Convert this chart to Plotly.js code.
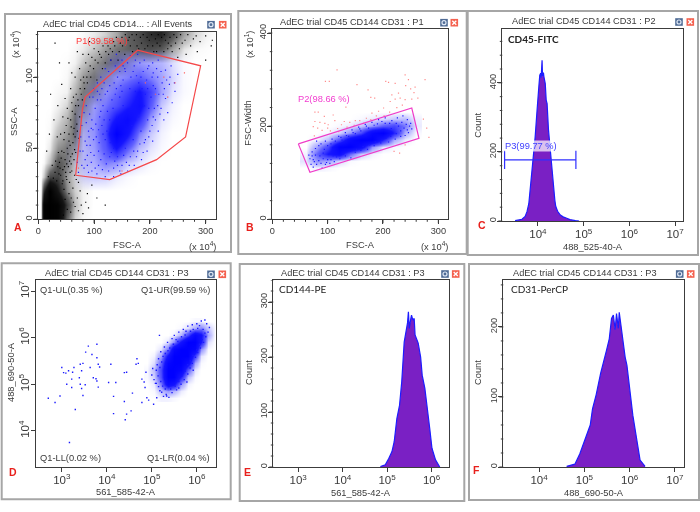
<!DOCTYPE html>
<html><head><meta charset="utf-8">
<script src="https://cdn.plot.ly/plotly-3.0.1.min.js"></script>
<style>html,body{margin:0;padding:0;background:#fff}#g{width:700px;height:512px;filter:blur(.25px)}</style>
</head><body><div id="g"></div>
<script>
// ---------- DATA ----------
const aBlackGridX=[5,10,20,35,50,65,80,100,120,140,160,180,200,220,240,260,280,300,320];
const aBlackGridY=[0,10,20,30,40,50,60,70,80,90,100,110,120,130];
const aBlackGridZ=[
[0,.95,1,.95,.3,.06,.01],[0,.95,1,.95,.45,.1,.02],[0,.5,1,.6,.22,.07,.02],[0,.08,.4,.42,.18,.06,.02],
[0,.01,.1,.35,.25,.08,.02],[0,0,.03,.2,.25,.18,.02],[0,0,.01,.1,.18,.28,.04],[0,0,.005,.05,.12,.28,.1],
[0,0,0,.02,.06,.22,.22,.02],[0,0,0,.01,.02,.12,.25,.2,.02],[0,0,0,0,.01,.06,.18,.26,.15,.02],
[0,0,0,0,.005,.02,.08,.18,.26,.22,.1,.01],[0,0,0,0,0,.01,.03,.08,.18,.26,.3,.34,.38,.34,.16,.04,.01,.005,0],
[0,0,0,0,0,0,.01,.03,.07,.15,.3,.38,.5,.55,.35,.16,.06,.02,.005]];
const aBlueGridX=[60,80,100,120,140,160,180,200,220,240,260,280];
const aBlueGridY=[20,30,40,50,60,70,80,90,100,110,120];
const aBlueGridZ=[[0],[0,.06,.08,.07,.03,.01],[.01,.1,.14,.24,.2,.08,.04,.01],[.01,.1,.18,.34,.6,.32,.1,.04,.01],
[0,.1,.2,.4,1,.65,.24,.08,.02],[0,.08,.2,.34,.65,.8,.5,.16,.04,.01],[0,.04,.16,.26,.38,.55,.7,.34,.08,.02],
[0,0,.08,.18,.28,.42,.62,.42,.16,.04,.01],[0,0,.01,.1,.18,.24,.32,.24,.16,.06,.01],[0,0,0,.01,.1,.15,.18,.15,.12,.05,.01],[0]];
const aBlackDots=[[45,3],[52,7],[58,5],[63,12],[48,14],[55,18],[66,9],[72,6],[70,15],[80,4],[62,22],[75,20],[85,12],[90,8],[68,28],[56,26],[50,30],[44,35],[38,40],[60,34],[48,42],[42,48],[52,50],[36,47],[58,44],[30,33],[25,38],[18,30],[46,56],[55,60],[40,60],[62,54],[34,58],[50,66],[64,64],[58,70],[44,72],[66,74],[52,78],[60,82],[72,80],[48,85],[68,88],[75,92],[58,92],[82,96],[66,100],[90,104],[74,106],[60,103],[55,110],[85,110],[96,114],[80,116],[70,118],[110,116],[100,120],[125,122],[92,125],[38,110],[30,124],[22,88],[42,95],[35,80],[28,70],[20,60],[15,48],[130,112],[145,118],[115,106],[105,98],[120,110],[135,125],[150,128],[165,122],[155,116],[172,126],[185,124],[195,128],[205,122],[215,130],[228,126],[238,122],[248,128],[258,124],[268,130],[278,127],[290,125],[300,129],[310,122],[285,118],[265,116],[250,114],[300,112],[312,126],[240,118],[225,118],[47,37],[53,46],[41,43],[57,52],[63,60],[69,67],[61,76],[71,84],[77,88],[83,92],[87,100],[93,108],[99,106],[107,110],[113,114],[121,118],[129,120],[137,122],[143,112],[151,122],[161,126],[169,118],[177,122],[183,128],[191,120],[199,126],[207,118],[213,124],[221,128],[233,124],[243,130],[253,120],[263,126],[273,122],[283,129],[59,39],[51,28],[43,25],[65,31],[67,47],[73,57],[65,49],[37,32],[33,27],[59,15],[77,10],[88,18],[96,24],[105,15],[120,10],
[44,27],[49,33],[54,37],[40,31],[46,47],[51,39],[61,46],[55,55],[47,61],[59,65],[53,71],[66,58],[70,62],[67,80],[63,86],[74,72],[79,84],[81,100],[76,98],[88,96],[94,100],[102,112],[90,116],[108,118],[116,122],[126,116],[133,118],[140,128],[147,124],[156,130],[163,128],[176,130],[180,120],[188,130],[203,130],[210,127],[218,122],[226,130],[236,128],[246,124],[255,130],[168,130],[196,122],[212,118],[232,120],[64,42],[57,33],[72,26],[46,21],[39,36],[56,41],[35,37],[31,41],[27,29]];
const aBlueDots=[[72,33],[70,40],[75,48],[76,58],[78,66],[82,75],[86,80],[92,86],[100,92],[106,96],[112,100],[120,106],[130,112],[140,116],[150,112],[165,115],[178,116],[190,112],[205,110],[215,112],[228,105],[238,108],[250,102],[245,90],[240,82],[232,75],[225,70],[215,62],[205,55],[195,48],[185,42],[172,38],[160,34],[148,32],[135,30],[120,30],[105,32],[90,33],[82,36],[88,45],[95,40],[84,55],[90,62],[96,70],[102,78],[110,88],[118,96],[126,104],[138,108],[155,106],[172,108],[188,104],[206,103],[222,96],[235,95],[228,85],[220,78],[210,70],[200,62],[190,54],[178,48],[165,44],[150,38],[135,36],[115,35],[100,45],[93,52],[104,58],[98,63],[110,72],[106,84],[116,80],[124,90],[114,66],[120,56],[108,48],[128,44],[142,44],[156,50],[170,56],[184,62],[196,70],[208,78],[216,88],[206,94],[194,98],[180,96],[166,100],[152,98],[136,96],[132,84],[146,86],[128,70],[118,46],[92,74],[86,68],[80,48],[78,38],[96,34],[112,42],[126,34],[142,38],[158,40],[176,44],[192,56],[204,66],[218,74],[226,92],[236,100],[244,96],[212,106],[198,108],[182,110],[160,110],[146,104],
[88,38],[94,47],[102,36],[109,54],[116,60],[122,39],[131,47],[137,41],[146,34],[153,45],[163,38],[171,48],[182,53],[188,47],[198,58],[103,67],[99,56],[91,58],[87,52],[95,64],[108,63],[112,76],[118,70],[123,62],[129,54],[135,50],[124,76],[134,78],[140,92],[148,94],[156,104],[170,104],[176,101],[186,92],[192,88],[202,86],[210,92],[214,100],[220,104],[230,98],[224,88],[214,80],[206,72],[198,78],[204,100],[196,106],[184,100],[174,112],[152,108],[142,100],[128,94],[120,88],[114,92],[106,90],[98,86],[112,84],[138,88],[150,90],[164,92],[174,90],[152,80],[142,72],[108,38],[84,42],[168,66],[180,72],[190,80],[196,92]];
const aRedDots=[[225,100],[245,96],[262,103],[210,88],[232,86],[192,96],[150,34],[72,36]];
const gateAx=[67,128,212,264,291,178,84,79,67];
const gateAy=[31,28,42,58,108,119,86,77,31];
const gateBx=[47,252,265,68,47];
const gateBy=[162,239,174,101,162];
const bBlueGridX=[60,80,100,120,140,160,180,200,220,240,260];
const bBlueGridY=[110,125,140,155,170,185,200,215,230];
const bBlueGridZ=[[0,.02,.01],[.04,.2,.16,.06,.01],[.02,.3,.6,.75,.3,.08,.02],[0,.16,.4,.95,1,.75,.2,.04,.01],
[0,.02,.1,.35,.8,1,1,.55,.14,.03],[0,0,.01,.06,.18,.4,.85,1,.55,.14,.01],[0,0,0,.01,.03,.08,.18,.32,.4,.25,.03],
[0,0,0,0,0,.01,.03,.05,.08,.1,.02],[0]];
const bBlueDots=[[70,118],[74,112],[68,130],[66,138],[72,145],[78,152],[84,158],[90,110],[96,118],[104,120],[112,124],[122,130],[132,136],[142,132],[150,144],[160,148],[172,150],[184,158],[196,164],[210,166],[222,172],[232,178],[240,180],[246,186],[252,194],[250,206],[244,214],[236,222],[226,218],[216,212],[204,218],[192,214],[180,208],[168,204],[156,198],[144,192],[132,186],[120,178],[108,172],[96,168],[88,162],[80,168],[76,124],[84,126],[92,130],[100,128],[110,136],[228,200],[238,196],[215,195],[204,206],[248,200],[244,192],[190,205],[174,196],[160,190],[150,184],[138,178],[126,170],
[74,128],[80,118],[86,136],[92,142],[98,122],[106,128],[78,138],[72,136],[88,120],[94,150],[100,158],[106,162],[114,168],[124,176],[134,180],[146,186],[158,194],[170,200],[184,202],[198,210],[212,206],[224,206],[234,208],[242,204],[232,190],[224,184],[214,178],[206,174],[198,170],[186,166],[176,160],[164,156],[152,150],[140,146],[128,140],[116,134]];
const bPinkDots=[[117,321],[96,296],[103,296],[153,289],[173,278],[178,262],[185,260],[205,296],[210,294],[222,292],[240,310],[246,300],[241,287],[250,280],[258,284],[276,300],[256,272],[216,267],[228,271],[222,258],[231,260],[213,253],[240,257],[263,260],[252,258],[133,241],[201,239],[192,232],[77,230],[83,230],[110,224],[94,221],[180,228],[273,215],[279,196],[283,176],[77,210],[86,208],[95,206],[101,203],[113,212],[74,199],[82,196],[90,191],[76,179],[125,203],[140,208],[158,212],[170,217],[130,210],[148,202],[165,206],[178,214],[188,222],[105,190],[118,195],[135,198],[120,188],[100,196],[150,212],[202,222],[212,230],[225,240],[235,245],[230,142],[220,146],[240,160]];
const cLog=[3.50,3.60,3.65,3.72,3.76,3.80,3.83,3.87,3.89,3.94,3.98,4.00,4.02,4.04,4.06,4.07,4.08,4.09,4.10,4.12,4.13,4.15,4.16,4.18,4.20,4.23,4.26,4.29,4.32,4.34,4.37,4.39,4.43,4.49,4.55,4.63,4.70,4.82,4.90];
const cCount=[1,3,5,13,27,50,90,140,165,245,320,370,390,422,428,415,440,465,420,430,418,400,398,350,340,265,215,178,125,85,60,42,28,17,12,8,4,1,0];
const gateCLog=[3.27,4.83];
const gateCCount=[177,177];
const dBlueGridX=[4.9,5.05,5.2,5.35,5.5,5.65,5.8,5.95,6.1,6.25,6.4];
const dBlueGridY=[4.7,4.85,5.0,5.15,5.3,5.45,5.6,5.75,5.9,6.05,6.2,6.35];
const dBlueGridZ=[[0,0,.02,.02,.01],[0,.01,.1,.18,.12,.03],[0,.03,.25,.8,.65,.18,.02],[.01,.07,.38,1,1,.55,.1,.01],
[.01,.1,.4,1,1,.9,.32,.04],[0,.05,.3,.9,1,1,.75,.15,.01],[0,.02,.16,.65,1,1,1,.42,.04],[0,0,.04,.25,.85,1,1,.9,.2,.01],
[0,0,0,.04,.22,.65,1,1,.6,.05],[0,0,0,0,.02,.12,.42,.85,.65,.15],[0,0,0,0,0,.01,.05,.14,.22,.08,.01],[0,0,0,0,0,0,0,.01,.01]];
const dDots=[[3.78,5.86],[3.59,5.82],[3.53,5.69],[3.67,5.64],[3.78,5.57],[3.81,5.43],[3.84,5.37],[3.47,5.45],[3.41,5.43],[3.27,5.36],[3.0,5.36],[3.04,5.25],[3.09,5.24],[3.15,5.29],[3.24,5.26],[3.44,5.29],[3.63,5.36],[3.39,5.14],[3.22,5.11],[3.11,5.0],[3.22,4.93],[3.41,5.0],[3.52,4.99],[3.70,5.14],[3.76,5.12],[3.78,5.07],[3.81,4.94],[3.44,4.91],[3.47,4.76],[2.96,4.75],[2.70,4.7],[2.85,4.61],[3.30,4.46],[3.17,3.75],[4.15,4.37],[4.44,4.36],[4.54,4.43],[4.41,4.24],[4.09,5.43],[4.04,5.04],[4.2,5.04],[4.15,4.74],[4.39,4.63],[4.57,4.81],[4.39,5.25],[4.44,5.26],[4.67,5.55],[4.65,5.43],[4.70,5.45],[4.78,5.11],[4.87,5.26],[4.85,4.93],[4.78,4.61],[4.89,4.71],[5.04,4.57],[4.93,4.66],[4.83,5.05],[5.11,4.71],[5.17,6.05],[5.33,4.75],
[5.1,5.3],[5.05,5.1],[5.0,5.2],[5.15,5.55],[5.2,5.7],[5.28,5.8],[5.35,5.9],[5.45,5.98],[5.5,6.05],[5.6,6.12],[5.7,6.18],[5.8,6.25],[5.9,6.28],[6.0,6.3],[6.1,6.36],[6.18,6.38],[6.22,6.3],[6.28,6.22],[6.25,6.12],[6.2,6.02],[6.15,5.9],[6.08,5.78],[6.02,5.68],[5.97,5.58],[5.9,5.45],[5.85,5.35],[5.8,5.22],[5.72,5.1],[5.65,5.0],[5.55,4.88],[5.45,4.82],[5.32,4.78],[5.22,4.83],[5.15,4.95],[5.08,5.02],[5.02,5.34],[5.12,5.42],[5.25,5.6],[5.4,5.78],[5.58,5.92],[5.74,6.06],[5.86,6.14],[6.02,6.2],[5.92,5.3],[5.78,5.05],[5.6,4.92],[5.38,4.72],[5.26,4.74],[5.18,4.86],
[5.14,5.18],[5.2,5.06],[5.1,5.02],[5.18,5.36],[5.22,5.48],[5.3,5.66],[5.36,5.72],[5.48,5.86],[5.54,5.96],[5.66,6.02],[5.76,6.14],[5.92,6.18],[6.06,6.26],[6.14,6.18],[6.18,6.1],[6.12,5.96],[6.06,5.86],[6.0,5.74],[5.92,5.62],[5.86,5.5],[5.8,5.42],[5.74,5.28],[5.68,5.18],[5.6,5.06],[5.52,4.96],[5.42,4.9],[5.3,4.9],[5.24,4.96]];
const eLog=[4.85,4.96,5.04,5.11,5.16,5.22,5.28,5.33,5.385,5.43,5.46,5.48,5.50,5.53,5.55,5.58,5.61,5.63,5.70,5.755,5.79,5.85,5.90,5.96,6.01,6.09,6.185];
const eCount=[1,4,16,28,46,88,112,155,227,250,262,282,252,268,276,267,270,240,225,200,167,143,113,70,34,13,0];
const fLog=[4.61,4.79,4.90,5.02,5.13,5.18,5.26,5.36,5.42,5.49,5.55,5.60,5.64,5.68,5.71,5.75,5.77,5.83,5.90,5.94,6.01,6.07,6.14,6.23,6.34];
const fCount=[1,4,19,39,60,83,103,134,148,167,183,212,217,196,219,198,221,190,157,145,107,74,46,10,1];
const panelTitles=["AdEC trial CD45 CD14... : All Events","AdEC trial CD45 CD144 CD31 : P1","AdEC trial CD45 CD144 CD31 : P2","AdEC trial CD45 CD144 CD31 : P3","AdEC trial CD45 CD144 CD31 : P3","AdEC trial CD45 CD144 CD31 : P3"];
const panelLetters=["A","B","C","D","E","F"];
const xNames=["FSC-A","FSC-A","488_525-40-A","561_585-42-A","561_585-42-A","488_690-50-A"];
const yNames=["SSC-A","FSC-Width","Count","488_690-50-A","Count","Count"];

// ---------- LAYOUT ----------
const W=700,H=512;
const FONT='Liberation Sans, Arial, sans-serif', TXT='#3a3a3a', AX='#3c3c3c';
const px=v=>v/W, py=v=>1-v/H;
const pow10=a=>a.map(v=>Math.pow(10,v));
const cols=(a,i)=>a.map(p=>p[i]);
const pad=(rows,n)=>rows.map(r=>r.concat(Array(n-r.length).fill(0)));
const HIST='#7a20c4', HISTL='#1c1cff', DOTB='#1a1aff';

const panels=[
 {f:[5,14,231,252], p:[38.3,31.7,215.7,219.3], xr:[0,318], yr:[0,132], xd:100,xm:20,yd:50,ym:10, t:[117.7,23.7], ic:[211,222.7,24.7], l:[18,226.7], xt:245, yt:[14,122]},
 {f:[238.3,11,466.7,254], p:[272.3,29.3,448.3,219.3], xr:[0,318], yr:[0,408], xd:100,xm:20,yd:200,ym:40, t:[351.7,21.7], ic:[444,454.3,22.7], l:[250,226.7], xt:245, yt:[247.7,123]},
 {f:[467.7,11,698,255], p:[502.3,29.3,683.3,221], xr:[3.22,7.18], yr:[0,555], log:1,yd:200,ym:40, t:[584,21], ic:[679,690.3,22], l:[482,225], xt:247.3, yt:[477.7,125]},
 {f:[1.7,263.3,230.7,499.3], p:[35.7,280,215.7,466.7], xr:[2.42,6.42], yr:[3.23,7.24], log:1,ylog:1, t:[117.3,273.3], ic:[211,222.3,274.3], l:[13.3,471.7], xt:491.5, yt:[11,372]},
 {f:[239.7,264,464.3,501], p:[273.3,280,449.3,467], xr:[2.44,6.40], yr:[0,340], log:1,yd:100,ym:20, t:[353,272.7], ic:[445,455.7,274], l:[247,471.7], xt:492.7, yt:[249,373]},
 {f:[469,264,699,500], p:[503.3,280,684,467], xr:[3.21,7.2], yr:[0,267], log:1,yd:100,ym:20, t:[585,272.7], ic:[679.7,690.7,274], l:[477,470.3], xt:492.7, yt:[478,373]}
];
const layout={width:W,height:H,margin:{l:0,r:0,t:0,b:0},paper_bgcolor:'#fff',plot_bgcolor:'#fff',showlegend:false,shapes:[],annotations:[],font:{family:FONT,size:9,color:TXT}};
function ann(text,x,y,o){layout.annotations.push(Object.assign({text,xref:'paper',yref:'paper',x:px(x),y:py(y),showarrow:false,xanchor:'center',yanchor:'middle',font:{family:FONT,size:9.3,color:TXT}},o||{}));}
function rect(a,b,c,d,o){layout.shapes.push(Object.assign({type:'rect',xref:'paper',yref:'paper',x0:px(a),x1:px(c),y0:py(b),y1:py(d),layer:'below'},o));}
function line(a,b,c,d,col,w){layout.shapes.push({type:'line',xref:'paper',yref:'paper',x0:px(a),x1:px(c),y0:py(b),y1:py(d),line:{color:col,width:w},layer:'above'});}
// tick positions along an axis, in the axis' own coordinates
function linTicks(r,step,major){const v=[];for(let k=0;k*step<=r[1];k++){v.push({v:k*step,big:(k*step)%major===0});}return v;}
function logTicks(r){const v=[];for(let d=Math.floor(r[0]);d<r[1];d++){for(let m=1;m<10;m++){const e=d+Math.log10(m);if(e>=r[0]&&e<=r[1])v.push({v:e,big:m===1});}}return v;}
function xTick(n,v,yPx,len){layout.shapes.push({type:'line',xref:'x'+n,yref:'paper',x0:v,x1:v,y0:py(yPx),y1:py(yPx+len),line:{color:AX,width:1},layer:'above'});}
function yTick(n,v,xPx,len){layout.shapes.push({type:'line',xref:'paper',yref:'y'+n,x0:px(xPx),x1:px(xPx-len),y0:v,y1:v,line:{color:AX,width:1},layer:'above'});}
panels.forEach((P,i)=>{
 const n=i?i+1:'';
 const base={showline:true,mirror:true,linecolor:AX,linewidth:1,zeroline:false,showgrid:false,ticks:'outside',tickcolor:AX,ticklen:4,tickwidth:1,tickfont:{family:FONT,size:9.2,color:TXT}};
 const xa=Object.assign({},base,{domain:[px(P.p[0]),px(P.p[2])],range:P.xr,anchor:'y'+n,ticklabelstandoff:-1});
 const ya=Object.assign({},base,{domain:[py(P.p[3]),py(P.p[1])],range:P.yr,anchor:'x'+n,tickangle:-90,ticklabelstandoff:-2});
 if(P.log)Object.assign(xa,{type:'log',dtick:1,exponentformat:'power'}); else xa.dtick=P.xd;
 if(P.ylog)Object.assign(ya,{type:'log',dtick:1,exponentformat:'power'}); else ya.dtick=P.yd;
 layout['xaxis'+n]=xa; layout['yaxis'+n]=ya;
 (P.log?logTicks(P.xr):linTicks(P.xr,P.xm,P.xd)).forEach(t=>xTick(n,t.v,P.p[3],t.big?4:2.5));
 (P.ylog?logTicks(P.yr):linTicks(P.yr,P.ym,P.yd)).forEach(t=>yTick(n,t.v,P.p[0],t.big?4:2.5));
 rect(P.f[0],P.f[1],P.f[2],P.f[3],{line:{color:'#a6a6a6',width:2},fillcolor:'rgba(0,0,0,0)'});
 ann(panelTitles[i],P.t[0],P.t[1],{font:{family:FONT,size:9.2,color:TXT}});
 ann(xNames[i],(P.p[0]+P.p[2])/2,P.xt);
 ann(yNames[i],P.yt[0],P.yt[1],{textangle:-90});
 ann('<b>'+panelLetters[i]+'</b>',P.l[0],P.l[1],{font:{family:FONT,size:10.5,color:'#e8201c'}});
 const [g,x,iy]=P.ic;
 rect(g-3.8,iy-3.8,g+3.8,iy+3.8,{fillcolor:'#4f6b95',line:{width:0},layer:'above'});
 layout.shapes.push({type:'circle',xref:'paper',yref:'paper',x0:px(g-2),x1:px(g+2),y0:py(iy-2),y1:py(iy+2),line:{color:'#dfe8f5',width:1.2},fillcolor:'#4f6b95'});
 rect(x-3.8,iy-3.8,x+3.8,iy+3.8,{fillcolor:'#f4614f',line:{width:0},layer:'above'});
 line(x-2,iy-2,x+2,iy+2,'#fff',1.3); line(x-2,iy+2,x+2,iy-2,'#fff',1.3);
});
ann('(x 10<sup>4</sup>)',202,245.5); ann('(x 10<sup>4</sup>)',434,245.5);
ann('(x 10<sup>4</sup>)',15,45,{textangle:-90}); ann('(x 10<sup>1</sup>)',249,45,{textangle:-90});
ann('P1(39.58 %)',101.7,40.7,{font:{family:FONT,size:9.3,color:'#ff3a3a'}});
ann('P2(98.66 %)',324,98.7,{font:{family:FONT,size:9.3,color:'#f23ccf'}});
ann('P3(99.77 %)',531,145.7,{font:{family:FONT,size:9.3,color:'#3d3dff'},bgcolor:'rgba(255,255,255,.72)',borderpad:0});
ann('Q1-UL(0.35 %)',38.3,289.7,{xanchor:'left'}); ann('Q1-UR(99.59 %)',212.5,289.7,{xanchor:'right'});
ann('Q1-LL(0.02 %)',38.3,458,{xanchor:'left'}); ann('Q1-LR(0.04 %)',212.5,458,{xanchor:'right'});
const LBL={family:'Lato, Open Sans, sans-serif',size:10,color:'#222'};
ann('<b>CD45-FITC</b>',505.7,38.7,{xanchor:'left',font:LBL});
ann('CD144-PE',277.3,289.3,{xanchor:'left',font:LBL});
ann('CD31-PerCP',509,289.3,{xanchor:'left',font:LBL});

// ---------- TRACES ----------
function alphaMap(r,g,b){const c=a=>`rgba(${r},${g},${b},${a})`;return [[0,c(0)],[.08,c(.22)],[.3,c(.62)],[.6,c(.92)],[1,c(1)]];}
function dens(gx,gy,gz,col,n,log){return {type:'heatmap',x:log?pow10(gx):gx,y:log?pow10(gy):gy,z:pad(gz,gx.length),zmin:0,zmax:1,zsmooth:'best',showscale:false,hoverinfo:'skip',colorscale:col,xaxis:'x'+n,yaxis:'y'+n};}
function dots(d,col,n,size,log){return {type:'scatter',mode:'markers',x:log?pow10(cols(d,0)):cols(d,0),y:log?pow10(cols(d,1)):cols(d,1),marker:{color:col,size:size||1.2,symbol:'square',line:{width:0}},xaxis:'x'+n,yaxis:'y'+n};}
function poly(x,y,col,n){return {type:'scatter',mode:'lines',x,y,line:{color:col,width:1.2},xaxis:'x'+n,yaxis:'y'+n};}
function hist(lg,c,n){return {type:'scatter',mode:'lines',x:pow10(lg),y:c,fill:'tozeroy',fillcolor:HIST,line:{color:HISTL,width:1.2},xaxis:'x'+n,yaxis:'y'+n};}
const data=[
 dens(aBlackGridX,aBlackGridY,aBlackGridZ,alphaMap(0,0,0),''),
 dots(aBlackDots,'#000',''),
 dens(aBlueGridX,aBlueGridY,aBlueGridZ,alphaMap(0,0,255),''),
 dots(aBlueDots,DOTB,''),
 dots(aRedDots,'#ff6060',''),
 poly(gateAx,gateAy,'#f5484a',''),
 dens(bBlueGridX,bBlueGridY,bBlueGridZ,alphaMap(0,0,255),'2'),
 dots(bBlueDots,DOTB,'2'),
 dots(bPinkDots,'#ff8c8c','2'),
 poly(gateBx,gateBy,'#f03cc8','2'),
 hist(cLog,cCount,'3'),
 {type:'scatter',mode:'lines+markers',x:pow10(gateCLog),y:gateCCount,line:{color:'#2f2fff',width:1.2},marker:{symbol:'line-ns',size:13,line:{color:'#2f2fff',width:1.2}},xaxis:'x3',yaxis:'y3'},
 dens(dBlueGridX,dBlueGridY,dBlueGridZ,alphaMap(0,0,255),'4',true),
 dots(dDots,DOTB,'4',1.4,true),
 hist(eLog,eCount,'5'),
 hist(fLog,fCount,'6')
];
layout.shapes.push({type:'line',xref:'x4',yref:'y4 domain',x0:3.87,x1:3.87,y0:0,y1:1,line:{color:AX,width:1.2}});
layout.shapes.push({type:'line',xref:'x4 domain',yref:'y4',x0:0,x1:1,y0:4.57,y1:4.57,line:{color:AX,width:1.2}});
Plotly.newPlot('g',data,layout,{displayModeBar:false,staticPlot:true});
</script></body></html>
